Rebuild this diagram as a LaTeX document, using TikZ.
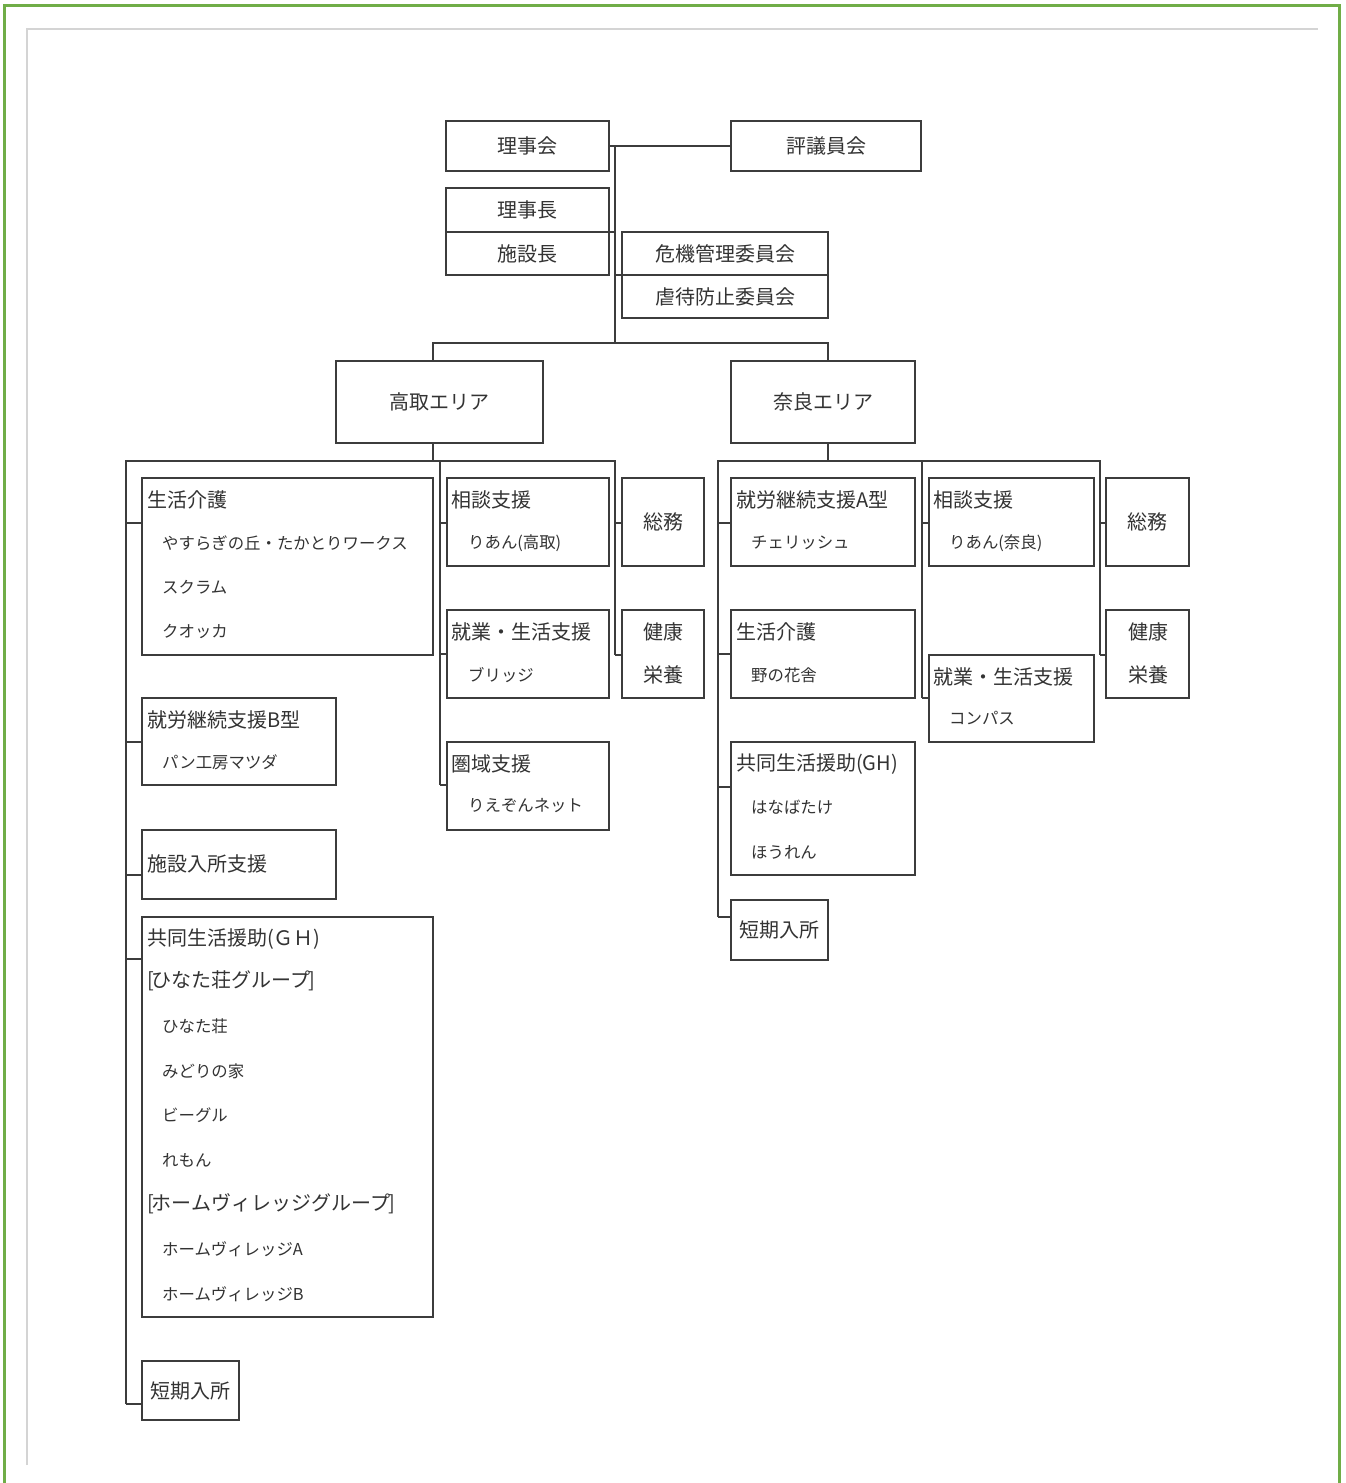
\documentclass[tikz,border=0pt]{standalone}
\usepackage{fontspec}
\newfontfamily\jp{Noto Sans CJK JP}
\definecolor{ln}{HTML}{3C3C3C}
\definecolor{txt}{HTML}{333333}
\definecolor{grn}{HTML}{70AD47}
\definecolor{frame}{HTML}{D4D4D4}
\newcommand\mkbox[5]{\node[box, minimum width={(#4)-(#2)}, minimum height={(#5)-(#3)}] (#1) at (#2,#3) {};}
\newcommand\branch[3]{\draw[conn] ([yshift=-#3pt]#2.north west -| #1) -- ([yshift=-#3pt]#2.north west);}
\begin{document}
\begin{tikzpicture}[x=1pt,y=-1pt,
  box/.style={draw=ln, line width=1.4pt, rectangle, inner sep=0pt, outer sep=0pt, anchor=north west},
  conn/.style={draw=ln, line width=1.4pt},
  head/.style={font=\jp\fontsize{20}{24}\selectfont, text=txt, inner sep=0pt, anchor=west},
  sub/.style={font=\jp\fontsize{16.4}{20}\selectfont, text=txt, inner sep=0pt, anchor=west},
  ctr/.style={font=\jp\fontsize{20}{24}\selectfont, text=txt, inner sep=0pt, anchor=center},
]
\useasboundingbox (0,0) rectangle (1346,1483);
\fill[white] (0,0) rectangle (1346,1483);
% page frame
\draw[frame, line width=2pt] (27,1465) -- (27,28.5) -- (1318,28.5);
\draw[grn, line width=3pt] (4.5,1483) -- (4.5,5) -- (1339.5,5) -- (1339.5,1483);

% ---------- top ----------
\mkbox{rijikai}{446}{121}{609}{171}
\mkbox{hyogi}{731}{121}{921}{171}
\mkbox{rijicho}{446}{188}{609}{232}
\mkbox{shisetsucho}{446}{232}{609}{275}
\mkbox{kiki}{622}{232}{828}{275}
\mkbox{gyakutai}{622}{275}{828}{318}
\mkbox{takatori}{336}{361}{543}{443}
\mkbox{nara}{731}{361}{915}{443}

\node[ctr] (t-rijikai) at (rijikai.center) {理事会};
\node[ctr] (t-hyogi) at (hyogi.center) {評議員会};
\node[ctr] (t-rijicho) at (rijicho.center) {理事長};
\node[ctr] (t-shisetsucho) at (shisetsucho.center) {施設長};
\node[ctr] (t-kiki) at (kiki.center) {危機管理委員会};
\node[ctr] (t-gyakutai) at (gyakutai.center) {虐待防止委員会};
\node[ctr] (t-takatori) at (takatori.center) {高取エリア};
\node[ctr] (t-nara) at (nara.center) {奈良エリア};

\coordinate (trTop) at (615,146);
\coordinate (trBot) at (615,343);
\coordinate (busL) at (433,343);
\coordinate (busR) at (828,343);
\draw[conn] (rijikai.east) -- (hyogi.west);
\draw[conn] (trTop) -- (trBot);
\draw[conn] (rijicho.south east) -- (rijicho.south east -| trTop);
\draw[conn] (kiki.south west -| trTop) -- (kiki.south west);
\draw[conn] (takatori.north -| busL) -- (busL) -- (busR) -- (nara.north -| busR);

% ---------- Takatori area ----------
\coordinate (tkDrop) at (433,461);
\coordinate (tk1) at (126,461);
\coordinate (tk1b) at (126,1404);
\coordinate (tk2) at (440,461);
\coordinate (tk2b) at (440,785);
\coordinate (tk3) at (615,461);
\coordinate (tk3b) at (615,655);
\draw[conn] (takatori.south -| tkDrop) -- (tkDrop);
\draw[conn] (tk1b) -- (tk1) -- (tk3) -- (tk3b);
\draw[conn] (tk2) -- (tk2b);

\mkbox{tkSeikatsu}{142}{478}{433}{655}
\mkbox{tkB}{142}{698}{336}{785}
\mkbox{tkNyusho}{142}{830}{336}{899}
\mkbox{tkGH}{142}{917}{433}{1317}
\mkbox{tkTanki}{142}{1361}{239}{1420}
\mkbox{tkSodan}{447}{478}{609}{566}
\mkbox{tkShugyo}{447}{610}{609}{698}
\mkbox{tkKeniki}{447}{742}{609}{830}
\mkbox{tkSomu}{622}{478}{704}{566}
\mkbox{tkKenko}{622}{610}{704}{698}

\branch{tk1}{tkSeikatsu}{45}
\branch{tk1}{tkB}{44}
\branch{tk1}{tkNyusho}{45}
\branch{tk1}{tkGH}{42}
\branch{tk1}{tkTanki}{43}
\branch{tk2}{tkSodan}{45}
\branch{tk2}{tkShugyo}{44}
\branch{tk2}{tkKeniki}{43}
\branch{tk3}{tkSomu}{45}
\branch{tk3}{tkKenko}{45}

\node[head] (a1) at (147,500) {生活介護};
\node[sub] (a2) at (162,543) {やすらぎの丘・たかとりワークス};
\node[sub] (a3) at (162,587) {スクラム};
\node[sub] (a4) at (162,631) {クオッカ};
\node[head] (b1) at (147,720) {就労継続支援B型};
\node[sub] (b2) at (162,762) {パン工房マツダ};
\node[head] (c1) at (147,864) {施設入所支援};
\node[head] (d1) at (147,939) {共同生活援助(ＧＨ)};
\node[head] (d2) at (147,981) {[\kern-2ptひなた荘グループ\kern-2pt]};
\node[sub] (d3) at (162,1026) {ひなた荘};
\node[sub] (d4) at (162,1071) {みどりの家};
\node[sub] (d5) at (162,1115) {ビーグル};
\node[sub] (d6) at (162,1160) {れもん};
\node[head] (d7) at (147,1204) {[\kern-2ptホームヴィレッジグループ\kern-2pt]};
\node[sub] (d8) at (162,1249) {ホームヴィレッジA};
\node[sub] (d9) at (162,1294) {ホームヴィレッジB};
\node[ctr] (e1) at (tkTanki.center) {短期入所};
\node[head] (f1) at (451,500) {相談支援};
\node[sub] (f2) at (468,543) {りあん(高取)};
\node[head] (g1) at (451,632) {就業・生活支援};
\node[sub] (g2) at (468,675) {ブリッジ};
\node[head] (h1) at (451,764) {圏域支援};
\node[sub] (h2) at (468,806) {りえぞんネット};
\node[ctr] (i1) at (tkSomu.center) {総務};
\node[ctr] (j1) at (663,632) {健康};
\node[ctr] (j2) at (663,675) {栄養};

% ---------- Nara area ----------
\coordinate (nrDrop) at (828,461);
\coordinate (nr1) at (718,461);
\coordinate (nr1b) at (718,917);
\coordinate (nr2) at (922,461);
\coordinate (nr2b) at (922,698);
\coordinate (nr3) at (1100,461);
\coordinate (nr3b) at (1100,655);
\draw[conn] (nara.south -| nrDrop) -- (nrDrop);
\draw[conn] (nr1b) -- (nr1) -- (nr3) -- (nr3b);
\draw[conn] (nr2) -- (nr2b);

\mkbox{nrA}{731}{478}{915}{566}
\mkbox{nrSeikatsu}{731}{610}{915}{698}
\mkbox{nrGH}{731}{742}{915}{875}
\mkbox{nrTanki}{731}{900}{828}{960}
\mkbox{nrSodan}{929}{478}{1094}{566}
\mkbox{nrCompass}{929}{655}{1094}{742}
\mkbox{nrSomu}{1106}{478}{1189}{566}
\mkbox{nrKenko}{1106}{610}{1189}{698}

\branch{nr1}{nrA}{45}
\branch{nr1}{nrSeikatsu}{44}
\branch{nr1}{nrGH}{45}
\branch{nr1}{nrTanki}{17}
\branch{nr2}{nrSodan}{45}
\branch{nr2}{nrCompass}{43}
\branch{nr3}{nrSomu}{45}
\branch{nr3}{nrKenko}{45}

\node[head] (k1) at (736,500) {就労継続支援A型};
\node[sub] (k2) at (751,543) {チェリッシュ};
\node[head] (l1) at (736,632) {生活介護};
\node[sub] (l2) at (751,675) {野の花舎};
\node[head] (m1) at (736,764) {共同生活援助(GH)};
\node[sub] (m2) at (751,807) {はなばたけ};
\node[sub] (m3) at (751,852) {ほうれん};
\node[ctr] (n1) at (nrTanki.center) {短期入所};
\node[head] (o1) at (933,500) {相談支援};
\node[sub] (o2) at (949,543) {りあん(奈良)};
\node[head] (p1) at (933,677) {就業・生活支援};
\node[sub] (p2) at (949,718) {コンパス};
\node[ctr] (q1) at (nrSomu.center) {総務};
\node[ctr] (r1) at (1148,632) {健康};
\node[ctr] (r2) at (1148,675) {栄養};
\end{tikzpicture}
\end{document}
